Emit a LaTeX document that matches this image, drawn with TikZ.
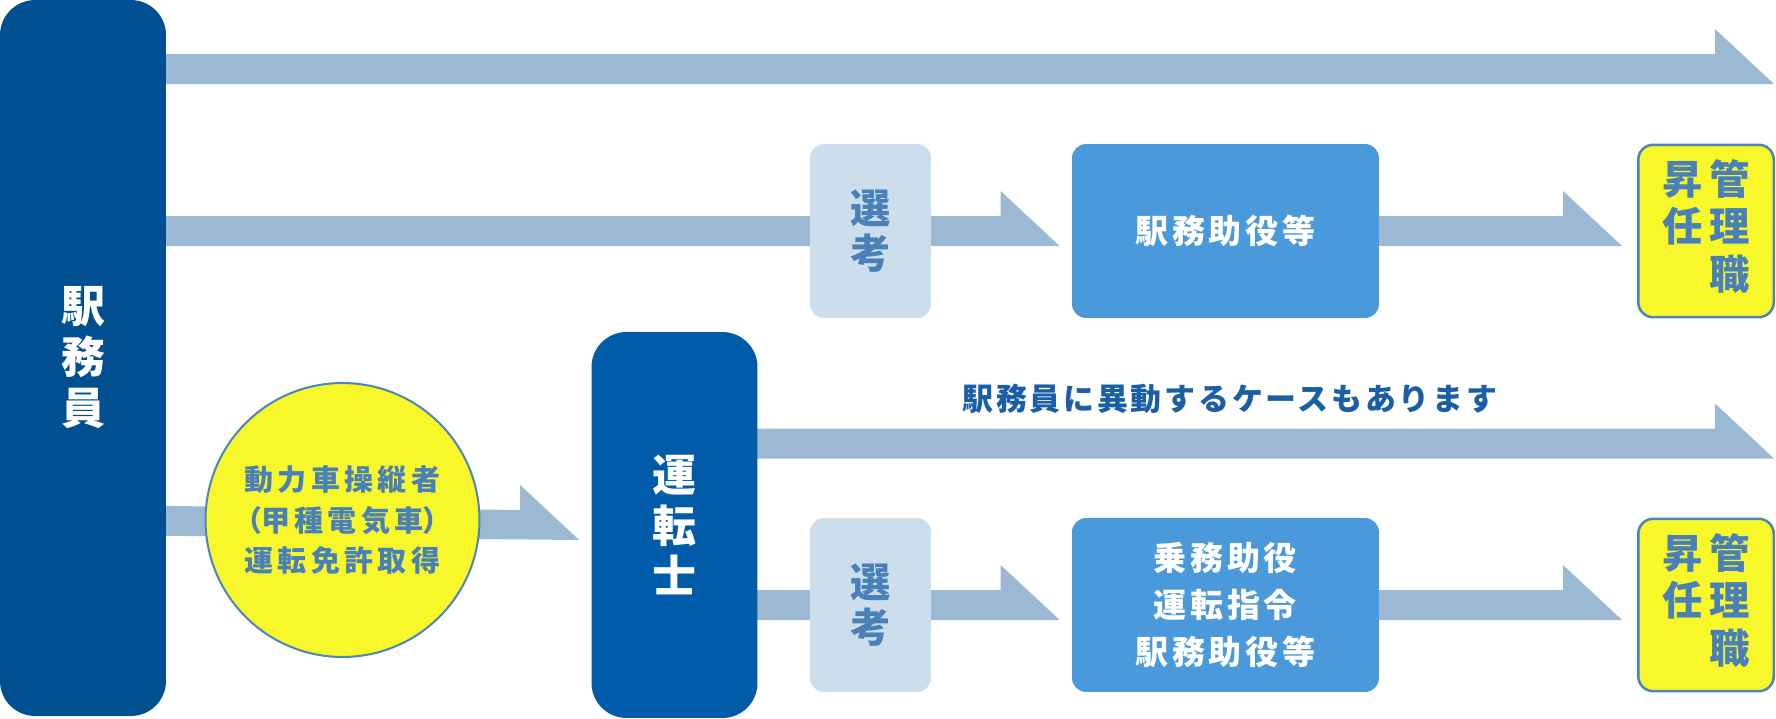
\documentclass[tikz,border=0pt]{standalone}
\usepackage{fontspec}
\newfontfamily\cjk{Noto Sans CJK JP}
\newfontfamily\cjkhalf[RawFeature=+palt]{Noto Sans CJK JP}
\usetikzlibrary{calc,backgrounds}

\definecolor{stationblue}{HTML}{004F91}
\definecolor{driverblue}{HTML}{005BA8}
\definecolor{flowblue}{HTML}{9BB9D3}
\definecolor{examfill}{HTML}{CCDEEC}
\definecolor{labelblue}{HTML}{4A80B8}
\definecolor{postblue}{HTML}{4A9ADB}
\definecolor{promoyellow}{HTML}{F7F72A}
\definecolor{promoline}{HTML}{4A86BC}
\definecolor{notetext}{HTML}{1B5EA8}

% wide flat arrow, head raised on one side only; #1 = gap before the target
\newcommand{\flowarrow}[3][12]{%
  \fill[flowblue] ($(#2)+(0,-15)$) -- ($(#3)+(-59-#1,-15)$) -- ($(#3)+(-59-#1,-40)$)
    -- ($(#3)+(-#1,15)$) -- ($(#2)+(0,15)$) -- cycle;}

\begin{document}
\begin{tikzpicture}[x=0.02cm, y=-0.02cm,
    every node/.style={inner sep=0pt, align=center},
    role/.style={fill=#1, rounded corners=0.7cm, minimum width=3.32cm, text=white,
      font=\cjk\bfseries\fontsize{25}{29}\selectfont},
    exam/.style={fill=examfill, rounded corners=0.28cm, minimum width=2.42cm, minimum height=3.48cm,
      text=labelblue, font=\cjk\bfseries\fontsize{23}{25.6}\selectfont},
    post/.style={fill=postblue, rounded corners=0.28cm, minimum width=6.14cm, minimum height=3.48cm,
      text=white, font=\cjk\bfseries\fontsize{18.8}{26.5}\selectfont\addfontfeature{LetterSpace=11}},
    promo/.style={fill=promoyellow, draw=promoline, line width=0.05cm, rounded corners=0.3cm,
      minimum width=2.71cm, minimum height=3.45cm, text=labelblue,
      font=\cjk\bfseries\fontsize{23}{25.3}\selectfont}]
    \useasboundingbox (0,0) rectangle (1776,718);

    \node[role=stationblue, minimum height=14.32cm] (staff) at (83,358) {駅\\務\\員};
    \node[role=driverblue, minimum height=7.72cm] (driver) at (674.5,525) {運\\転\\士};
    \node[circle, fill=promoyellow, draw=promoline, line width=0.04cm, minimum size=5.48cm,
      text=labelblue, font=\cjk\bfseries\fontsize{16.5}{23.3}\selectfont\addfontfeature{LetterSpace=15}]
      (licence) at (342.5,520)
      {動力車操縦者\\{\cjkhalf （}甲種電気車{\cjkhalf ）}\\運転免許取得};

    \node[exam] (exam1) at (870.5,231) {選\\考};
    \node[post] (post1) at (1225.5,231) {駅務助役等};
    \node[promo] (promo1) at (1706,231)
      {\begin{tabular}{@{}c@{\hspace{0.14cm}}c@{}}昇&管\\任&理\\&職\end{tabular}};

    \node[exam] (exam2) at (870.5,605) {選\\考};
    \node[post] (post2) at (1225.5,605) {乗務助役\\運転指令\\駅務助役等};
    \node[promo] (promo2) at (1706,605)
      {\begin{tabular}{@{}c@{\hspace{0.14cm}}c@{}}昇&管\\任&理\\&職\end{tabular}};

    \node[anchor=west, text=notetext, font=\cjk\bfseries\fontsize{17.6}{21}\selectfont\addfontfeature{LetterSpace=9}]
      (note) at (962,399) {駅務員に異動するケースもあります};

    \coordinate (end1) at (1774,69);
    \coordinate (end2) at (1774,443.5);

    \begin{pgfonlayer}{background}
    \flowarrow[0]{staff.center |- end1}{end1}
    \flowarrow{staff.center |- exam1}{post1.west}
    \flowarrow[15]{post1.center}{promo1.west}
    \flowarrow{staff.center |- licence}{driver.west}
    \flowarrow[0]{driver.center |- end2}{end2}
    \flowarrow{driver.center |- exam2}{post2.west}
    \flowarrow[15]{post2.center}{promo2.west}
    \end{pgfonlayer}
\end{tikzpicture}
\end{document}
